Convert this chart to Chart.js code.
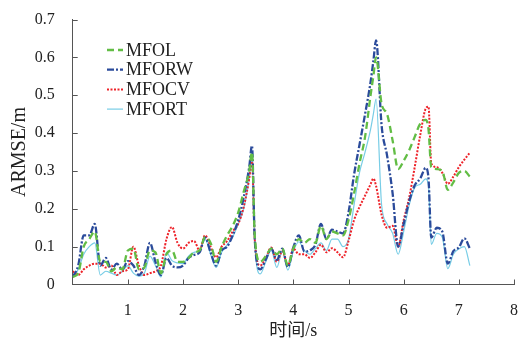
<!DOCTYPE html>
<html>
<head>
<meta charset="utf-8">
<script src="https://cdn.jsdelivr.net/npm/chart.js@4/dist/chart.umd.min.js"></script>
<style>
  html, body { margin: 0; padding: 0; background: #fff; }
  #wrap { width: 532px; height: 343px; }
</style>
</head>
<body>
<div id="wrap"><canvas id="errChart" width="532" height="343"></canvas></div>
<script>
// tiempo (s)
var tiempo = [0, 0.1, 0.2, 0.3, 0.4, 0.5, 0.6, 0.7, 0.8, 0.9,
  1.0, 1.1, 1.2, 1.3, 1.4, 1.5, 1.6, 1.7, 1.8, 1.9,
  2.0, 2.1, 2.2, 2.3, 2.4, 2.5, 2.6, 2.7, 2.8, 2.9,
  3.0, 3.1, 3.2, 3.25, 3.3, 3.4, 3.5, 3.6, 3.7, 3.8, 3.9,
  4.0, 4.1, 4.2, 4.3, 4.4, 4.5, 4.6, 4.7, 4.8, 4.9,
  5.0, 5.1, 5.2, 5.3, 5.4, 5.45, 5.5, 5.6, 5.7, 5.8, 5.9,
  6.0, 6.1, 6.2, 6.3, 6.4, 6.45, 6.5, 6.6, 6.7, 6.8, 6.9,
  7.0, 7.1, 7.2];

var nombres = ["MFOL", "MFORW", "MFOCV", "MFORT"];

var mfol = [0.02, 0.03, 0.10, 0.12, 0.14, 0.06, 0.06, 0.035, 0.045, 0.04,
  0.09, 0.095, 0.04, 0.045, 0.09, 0.085, 0.03, 0.08, 0.09, 0.06,
  0.06, 0.07, 0.085, 0.09, 0.125, 0.11, 0.06, 0.10, 0.13, 0.155,
  0.19, 0.245, 0.30, 0.35, 0.13, 0.06, 0.075, 0.095, 0.08, 0.095, 0.05,
  0.095, 0.12, 0.11, 0.12, 0.11, 0.155, 0.12, 0.14, 0.135, 0.13,
  0.17, 0.24, 0.32, 0.39, 0.50, 0.55, 0.60, 0.477, 0.45, 0.38, 0.305,
  0.327, 0.355, 0.39, 0.425, 0.435, 0.41, 0.31, 0.305, 0.30, 0.25, 0.27,
  0.295, 0.30, 0.285];

var mforw = [0.02, 0.05, 0.13, 0.13, 0.16, 0.05, 0.07, 0.04, 0.055, 0.04,
  0.062, 0.05, 0.025, 0.05, 0.11, 0.06, 0.025, 0.07, 0.05, 0.045,
  0.05, 0.07, 0.078, 0.085, 0.124, 0.085, 0.05, 0.09, 0.10, 0.13,
  0.17, 0.23, 0.31, 0.367, 0.12, 0.04, 0.066, 0.095, 0.065, 0.095, 0.046,
  0.098, 0.13, 0.087, 0.09, 0.105, 0.16, 0.12, 0.145, 0.14, 0.135,
  0.19, 0.29, 0.37, 0.45, 0.535, 0.59, 0.645, 0.42, 0.34, 0.24, 0.10,
  0.16, 0.22, 0.262, 0.28, 0.308, 0.28, 0.124, 0.15, 0.14, 0.055, 0.088,
  0.098, 0.122, 0.095];

var mfocv = [0.035, 0.025, 0.04, 0.05, 0.055, 0.055, 0.045, 0.05, 0.025, 0.035,
  0.04, 0.10, 0.05, 0.025, 0.03, 0.035, 0.05, 0.12, 0.152, 0.11,
  0.095, 0.11, 0.115, 0.09, 0.13, 0.10, 0.072, 0.10, 0.115, 0.14,
  0.16, 0.205, 0.28, 0.33, 0.12, 0.05, 0.07, 0.098, 0.06, 0.088, 0.05,
  0.095, 0.08, 0.08, 0.07, 0.085, 0.105, 0.085, 0.096, 0.085, 0.072,
  0.115, 0.17, 0.205, 0.235, 0.265, 0.28, 0.26, 0.184, 0.15, 0.155, 0.10,
  0.17, 0.23, 0.31, 0.395, 0.465, 0.47, 0.32, 0.31, 0.295, 0.266, 0.285,
  0.31, 0.33, 0.348];

var mfort = [0.02, 0.04, 0.08, 0.10, 0.11, 0.025, 0.035, 0.03, 0.025, 0.035,
  0.05, 0.03, 0.022, 0.03, 0.075, 0.05, 0.02, 0.085, 0.063, 0.057,
  0.055, 0.075, 0.085, 0.09, 0.12, 0.08, 0.045, 0.085, 0.105, 0.125,
  0.16, 0.20, 0.28, 0.34, 0.11, 0.028, 0.06, 0.09, 0.045, 0.088, 0.038,
  0.088, 0.113, 0.09, 0.08, 0.095, 0.11, 0.09, 0.12, 0.12, 0.10,
  0.12, 0.21, 0.296, 0.35, 0.41, 0.45, 0.49, 0.21, 0.16, 0.135, 0.08,
  0.14, 0.21, 0.256, 0.265, 0.279, 0.26, 0.106, 0.135, 0.125, 0.042, 0.08,
  0.094, 0.10, 0.05];

var ticksY = [0, 0.1, 0.2, 0.3, 0.4, 0.5, 0.6, 0.7];
var ticksX = [1, 2, 3, 4, 5, 6, 7, 8];

var fuente = "'Liberation Serif', 'Times New Roman', 'Noto Sans CJK SC', serif";

function puntos(valores) {
  return tiempo.map(function (t, i) { return { x: t, y: valores[i] }; });
}

// Leyenda dibujada dentro del área del gráfico (líneas de muestra + texto)
var leyendaPlugin = {
  id: "leyendaInterna",
  afterDatasetsDraw: function (chart) {
    var ctx = chart.ctx;
    var x0 = 107, x1 = 123, y0 = 50, paso = 19.7;
    ctx.save();
    chart.data.datasets.forEach(function (ds, i) {
      var y = y0 + i * paso;
      ctx.beginPath();
      ctx.setLineDash(ds.borderDash || []);
      ctx.lineWidth = ds.borderWidth;
      ctx.strokeStyle = ds.borderColor;
      ctx.moveTo(x0, y);
      ctx.lineTo(x1, y);
      ctx.stroke();
      ctx.setLineDash([]);
      ctx.fillStyle = "#222";
      ctx.font = "18px " + fuente;
      ctx.textBaseline = "middle";
      ctx.textAlign = "left";
      ctx.fillText(ds.label, x1 + 3, y + 1);
    });
    ctx.restore();
  }
};

// Marcas de los ejes hacia adentro
var marcasPlugin = {
  id: "marcasInternas",
  afterDraw: function (chart) {
    var ctx = chart.ctx;
    var sx = chart.scales.x, sy = chart.scales.y;
    ctx.save();
    ctx.strokeStyle = "#555";
    ctx.lineWidth = 1;
    ctx.beginPath();
    ticksY.forEach(function (v) {
      if (v === 0) return;
      var py = Math.round(sy.getPixelForValue(v)) + 0.5;
      ctx.moveTo(sx.left, py);
      ctx.lineTo(sx.left + 5, py);
    });
    ticksX.forEach(function (v) {
      var px = Math.round(sx.getPixelForValue(v)) + 0.5;
      ctx.moveTo(px, sy.bottom);
      ctx.lineTo(px, sy.bottom - 5);
    });
    ctx.stroke();
    ctx.restore();
  }
};

var errChart = new Chart(document.getElementById("errChart"), {
  type: "line",
  data: {
    datasets: [
      {
        label: nombres[0],
        data: puntos(mfol),
        borderColor: "#62bd45",
        borderWidth: 2.3,
        borderDash: [7, 4],
      },
      {
        label: nombres[1],
        data: puntos(mforw),
        borderColor: "#2b4b9b",
        borderWidth: 2.3,
        borderDash: [7, 2, 2, 2],
      },
      {
        label: nombres[2],
        data: puntos(mfocv),
        borderColor: "#ee2229",
        borderWidth: 2,
        borderDash: [2, 1.5],
      },
      {
        label: nombres[3],
        data: puntos(mfort),
        borderColor: "#78cde6",
        borderWidth: 1.2,
      },
    ],
  },
  options: {
    responsive: false,
    animation: false,
    devicePixelRatio: 1,
    layout: { padding: { left: 0, right: 18, top: 13, bottom: 0 } },
    elements: {
      point: { radius: 0 },
      line: { cubicInterpolationMode: "monotone", borderCapStyle: "butt", fill: false },
    },
    plugins: {
      legend: { display: false },
      tooltip: { enabled: false },
    },
    scales: {
      x: {
        type: "linear",
        min: 0,
        max: 8,
        afterFit: function (s) { s.height = 58.5; },
        afterBuildTicks: function (s) {
          s.ticks = [0].concat(ticksX).map(function (v) { return { value: v }; });
        },
        grid: { display: false },
        border: { display: true, color: "#555", width: 1 },
        ticks: {
          padding: 9,
          color: "#222",
          font: { family: fuente, size: 16 },
          maxRotation: 0,
          callback: function (v) { return v === 0 ? "" : String(v); },
        },
        title: {
          display: true,
          text: "时间/s",
          color: "#222",
          font: { family: fuente, size: 18 },
          padding: { top: 0, bottom: 1 },
        },
      },
      y: {
        min: 0,
        max: 0.7,
        afterFit: function (s) { s.width = 72.7; },
        afterBuildTicks: function (s) {
          s.ticks = ticksY.map(function (v) { return { value: v }; });
        },
        grid: { display: false },
        border: { display: true, color: "#555", width: 1 },
        ticks: {
          padding: 10,
          color: "#222",
          font: { family: fuente, size: 16 },
          callback: function (v) { return v === 0 ? "0" : v.toFixed(1); },
        },
        title: {
          display: true,
          text: "ARMSE/m",
          color: "#222",
          font: { family: fuente, size: 20 },
          padding: { top: 8, bottom: 0 },
        },
      },
    },
  },
  plugins: [leyendaPlugin, marcasPlugin],
});
</script>
</body>
</html>
